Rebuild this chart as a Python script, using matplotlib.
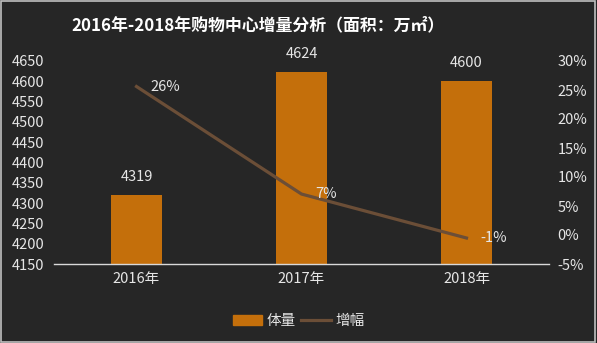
#!/usr/bin/env python3
# -*- coding: utf-8 -*-
import matplotlib
matplotlib.use('Agg')
import matplotlib.pyplot as plt
import matplotlib.patches as mpatches
from matplotlib.lines import Line2D

plt.rcParams['font.family'] = ['Noto Sans CJK SC', 'DejaVu Sans']

# данные
years = ['2016年', '2017年', '2018年']
area = [4319, 4624, 4600]
growth = [0.256, 0.0706, -0.0052]
left_ticks = list(range(4150, 4651, 50))
right_ticks = [-0.05, 0, 0.05, 0.10, 0.15, 0.20, 0.25, 0.30]

bg = '#262626'
txt = '#e6e6e6'
bar_color = '#C46F0B'
line_color = '#6B4E37'

fig = plt.figure(figsize=(5.97, 3.43), dpi=100, facecolor=bg)
ax = fig.add_axes([54 / 597, 79 / 343, 495 / 597, 203 / 343])
ax.set_facecolor(bg)

x = list(range(len(years)))
bars = ax.bar(x, area, width=0.315, color=bar_color, zorder=2)
ax.set_ylim(4150, 4650)
ax.set_xlim(-0.5, 2.5)
ax.set_yticks(left_ticks)
ax.set_xticks(x)
ax.set_xticklabels(years)
ax.tick_params(axis='both', length=0, colors=txt, labelsize=10.5)
ax.tick_params(axis='y', pad=7)
ax.tick_params(axis='x', pad=6)
for s in ['top', 'left', 'right']:
    ax.spines[s].set_visible(False)
ax.spines['bottom'].set_color('#d9d9d9')
ax.spines['bottom'].set_linewidth(1.0)

for xi, v in zip(x, area):
    ax.annotate(str(v), (xi, v), xytext=(0, 13), textcoords='offset points',
                ha='center', va='center', color=txt, fontsize=10.5)

ax2 = ax.twinx()
ax2.set_ylim(-0.05, 0.30)
ax2.set_yticks(right_ticks)
ax2.set_yticklabels([f'{t:.0%}' for t in right_ticks])
ax2.tick_params(axis='y', length=0, colors=txt, labelsize=10.5, pad=6)
for s in ['top', 'left', 'right', 'bottom']:
    ax2.spines[s].set_visible(False)
ax2.plot(x, growth, color=line_color, linewidth=2.3, zorder=3)
for xi, g in zip(x, growth):
    ax2.annotate(f'{g:.0%}', (xi, g), xytext=(10, 0), textcoords='offset points',
                 ha='left', va='center', color=txt, fontsize=10.5)

fig.text(258 / 597, 0.925, '2016年-2018年购物中心增量分析（面积：万㎡）',
         ha='center', va='center', color='white', fontsize=12.2, fontweight='bold')

handles = [mpatches.Patch(color=bar_color, label='体量'),
           Line2D([0], [0], color=line_color, linewidth=2.3, label='增幅')]
leg = fig.legend(handles=handles, loc='center', bbox_to_anchor=(0.5, 0.064), ncol=2,
                 frameon=False, fontsize=10.5, handlelength=2.0, handleheight=0.6,
                 columnspacing=0.4, handletextpad=0.3)
for t in leg.get_texts():
    t.set_color(txt)

# рамка
fig.add_artist(mpatches.Rectangle((0.001, 0.004), 0.996, 0.993, transform=fig.transFigure,
                                  fill=False, edgecolor='#bfbfbf', linewidth=1.2))

fig.savefig('out.png', dpi=100, facecolor=bg)
